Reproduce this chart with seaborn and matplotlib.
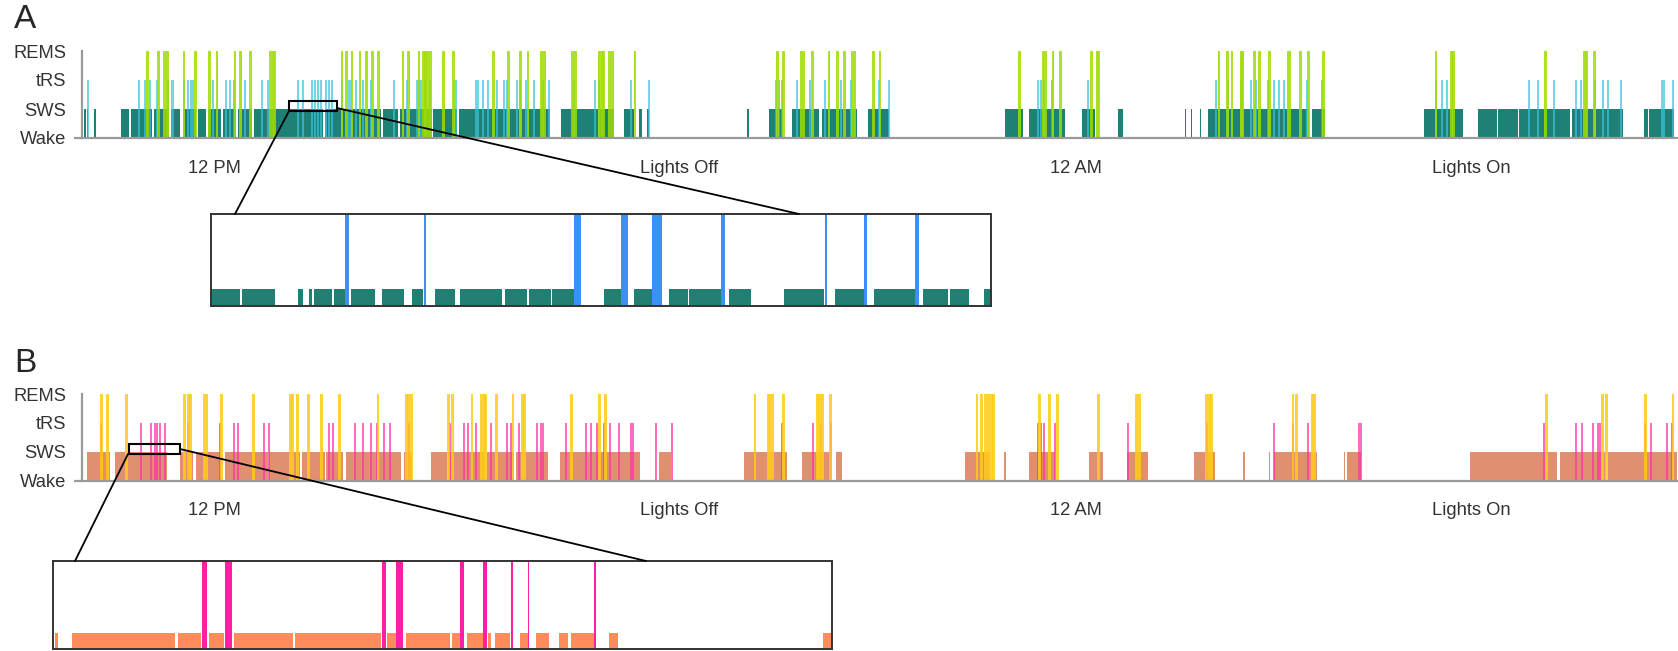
import numpy as np
import matplotlib
matplotlib.use("Agg")
import matplotlib.pyplot as plt
from matplotlib.lines import Line2D
from matplotlib.patches import Rectangle
import seaborn as sns

# sleep stages, plotted as heights 0..3
stage_names = ["Wake", "SWS", "tRS", "REMS"]
tick_hours = [12.0, 18.47, 24.0, 29.5]
tick_names = ["12 PM", "Lights Off", "12 AM", "Lights On"]
t_start, t_end = 10.16, 32.38

# ---- panel A (clock hours) ----
a_sws = [(10.19, 10.21), (10.23, 10.25), (10.33, 10.35), (10.70, 10.82), (10.84, 11.14),
         (11.16, 11.37), (11.40, 11.53), (11.56, 11.75), (11.77, 11.88), (11.91, 12.10),
         (12.12, 12.31), (12.33, 12.53), (12.56, 13.52), (13.55, 14.32), (14.35, 14.56),
         (14.59, 15.03), (15.05, 15.38), (15.41, 16.68), (16.83, 17.56), (17.70, 17.85),
         (17.92, 17.95), (18.02, 18.05), (19.42, 19.44), (19.72, 19.92), (20.04, 20.42),
         (20.46, 20.95), (21.10, 21.39), (23.01, 23.26), (23.35, 23.84), (24.08, 24.27),
         (24.58, 24.65), (25.51, 25.53), (25.60, 25.62), (25.72, 25.74), (25.84, 27.24),
         (27.29, 27.47), (28.85, 29.39), (29.59, 29.86), (29.88, 30.15), (30.17, 30.88),
         (30.90, 31.62), (31.91, 31.96), (31.98, 32.32)]
a_trs = [10.24, 10.95, 11.04, 11.11, 11.20, 11.36, 11.42, 11.58, 11.64, 11.68, 11.71, 11.98,
         12.16, 12.22, 12.27, 12.43, 12.67, 12.75, 13.17, 13.23, 13.36, 13.40, 13.44, 13.49,
         13.56, 13.60, 13.64, 13.78, 13.88, 13.91, 13.98, 14.07, 14.18, 14.51, 14.68, 14.82,
         14.85, 14.88, 14.93, 15.00, 15.36, 15.64, 15.68, 15.74, 15.81, 15.94, 16.04, 16.08,
         16.21, 16.26, 16.34, 16.45, 16.58, 16.66, 17.01, 17.30, 17.36, 17.81, 18.05, 19.82,
         19.86, 19.90, 20.11, 20.29, 20.50, 20.73, 20.86, 21.26, 21.39, 23.47, 23.51, 23.55,
         23.66, 24.16, 25.95, 26.12, 26.30, 26.44, 26.51, 26.67, 26.75, 26.82, 26.90, 27.21,
         27.43, 29.01, 29.09, 29.16, 30.31, 30.43, 30.66, 30.96, 31.03, 31.22, 31.33, 31.41,
         31.59, 32.16, 32.18, 32.31]
a_rems = [11.07, 11.23, 11.31, 11.35, 11.58, 11.74, 11.94, 12.04, 12.29, 12.37, 12.51, 12.78,
          12.82, 12.84, 13.78, 13.84, 13.92, 14.03, 14.12, 14.20, 14.29, 14.63, 14.71, 14.85,
          14.91, 14.94, 14.97, 15.01, 15.19, 15.33, 15.89, 16.10, 16.27, 16.37, 16.56, 16.60,
          16.99, 17.03, 17.36, 17.40, 17.42, 17.50, 17.55, 17.86, 19.84, 19.93, 20.17, 20.20,
          20.33, 20.56, 20.68, 20.78, 20.88, 20.92, 21.18, 21.27, 23.21, 23.55, 23.58, 23.68,
          23.78, 24.21, 24.29, 24.31, 25.99, 26.11, 26.17, 26.30, 26.32, 26.48, 26.55, 26.69,
          26.95, 26.98, 27.12, 27.24, 27.44, 29.01, 29.23, 29.25, 30.54, 31.08, 31.11, 31.22]

# ---- panel B (clock hours) ----
b_sws = [(10.23, 10.55), (10.62, 11.34), (11.52, 11.71), (11.75, 12.10), (12.15, 12.75),
         (12.77, 13.20), (13.22, 13.54), (13.56, 13.80), (13.83, 14.60), (14.64, 14.75),
         (15.02, 15.24), (15.26, 15.78), (15.80, 16.18), (16.20, 16.65), (16.81, 17.93),
         (18.20, 18.36), (19.38, 19.98), (20.18, 20.59), (20.66, 20.74), (22.46, 22.80),
         (23.00, 23.02), (23.34, 23.71), (24.18, 24.38), (24.71, 25.00), (25.64, 25.93),
         (26.32, 26.35), (26.68, 26.70), (26.76, 27.35), (27.73, 27.75), (27.77, 27.97),
         (29.48, 30.70), (30.74, 31.38), (31.40, 32.36)]
b_trs = [10.43, 10.98, 11.12, 11.18, 11.21, 11.25, 11.31, 11.63, 12.08, 12.27, 12.33, 12.69,
         12.77, 13.60, 13.65, 13.96, 14.07, 14.18, 14.27, 14.37, 14.45, 14.71, 15.28, 15.48,
         15.54, 15.65, 15.85, 16.08, 16.13, 16.24, 16.50, 16.55, 16.58, 16.90, 17.17, 17.25,
         17.33, 17.43, 17.51, 17.64, 17.81, 17.83, 18.15, 18.38, 19.90, 20.34, 20.45, 20.59,
         23.47, 23.51, 23.55, 23.71, 24.72, 25.82, 26.76, 27.02, 27.23, 27.94, 27.96, 30.52,
         30.96, 31.05, 31.20, 31.27, 31.29, 31.92, 32.01, 32.23, 32.29]
b_rems = [10.43, 10.51, 10.78, 11.59, 11.64, 11.67, 11.87, 11.90, 12.10, 12.55, 13.06, 13.09,
          13.16, 13.31, 13.49, 13.74, 14.28, 14.68, 14.71, 14.75, 15.26, 15.32, 15.59, 15.72,
          15.76, 15.78, 15.93, 16.16, 16.29, 16.32, 16.98, 17.36, 17.45, 19.53, 19.72, 19.75,
          19.78, 19.93, 20.40, 20.42, 20.45, 20.47, 20.58, 22.62, 22.68, 22.74, 22.78, 22.82,
          22.85, 23.49, 23.63, 23.74, 24.31, 24.84, 24.88, 25.82, 25.86, 25.89, 27.02, 27.07,
          27.29, 27.32, 30.55, 31.33, 31.38, 31.93, 32.31]

# zoomed windows (hours) shown in the insets
a_window = (13.04, 13.71)
b_window = (10.82, 11.52)

# ---- inset data, minutes within the zoomed window ----
ia_sws = [(0.00, 1.47), (1.57, 3.28), (4.46, 4.74), (5.01, 5.19), (5.29, 6.19), (6.32, 6.95),
          (7.16, 8.39), (8.78, 9.91), (10.33, 10.88), (11.48, 12.53), (12.79, 14.94),
          (15.10, 16.22), (16.33, 17.43), (17.51, 18.69), (20.13, 21.05), (21.70, 22.62),
          (23.48, 24.45), (24.53, 26.16), (26.55, 27.68), (29.36, 31.45), (31.98, 33.50),
          (34.02, 36.12), (36.51, 37.82), (37.90, 38.87), (39.66, 40.00)]
ia_trs = [(6.89, 7.08), (10.90, 11.01), (18.64, 18.95), (21.05, 21.36), (22.62, 23.14),
          (26.16, 26.37), (31.50, 31.61), (33.50, 33.64), (36.12, 36.33)]
ib_sws = [(0.08, 0.26), (1.00, 6.29), (6.42, 7.60), (7.99, 8.78), (9.30, 12.31), (12.45, 16.85),
          (17.16, 17.61), (18.13, 20.38), (20.51, 20.88), (21.27, 22.09), (22.32, 22.48),
          (22.72, 23.45), (23.97, 24.37), (24.81, 25.47), (25.99, 26.46), (26.59, 27.77),
          (28.56, 29.00), (39.56, 40.00)]
ib_trs = [(7.65, 7.91), (8.83, 9.17), (16.90, 17.08), (17.63, 17.95), (20.88, 21.09),
          (22.06, 22.30), (23.50, 23.63), (24.37, 24.44), (27.77, 27.90)]

sns.set_theme(style="white")
plt.rcParams["font.family"] = ["Liberation Sans", "DejaVu Sans"]

W, H = 1678, 651
fig = plt.figure(figsize=(W / 100, H / 100), dpi=100)
axis_grey = "#9a9a9a"


def fig_box(x0, y0, x1, y1):
    # pixel box (top-left origin) -> figure fraction rect
    return [x0 / W, 1 - y1 / H, (x1 - x0) / W, (y1 - y0) / H]


def spans(ax, pairs, level, color, alpha=1.0):
    s = np.array([p[0] for p in pairs])
    e = np.array([p[1] for p in pairs])
    ax.bar(s, level, width=e - s, align="edge", color=color, alpha=alpha, linewidth=0)


def events(ax, times, level, width, color, alpha):
    t = np.array(times)
    ax.bar(t, level, width=width, align="center", color=color, alpha=alpha, linewidth=0)


def hypnogram(rect, sws, trs, rems, cols, window):
    ax = fig.add_axes(rect)
    spans(ax, sws, 1, cols[0], cols[3])
    events(ax, trs, 2, 0.028, cols[1], 0.7)
    events(ax, rems, 3, 0.038, cols[2], 0.85)
    ax.set_xlim(t_start, t_end)
    ax.set_ylim(0, 3)
    ax.set_yticks(range(4))
    ax.set_yticklabels(stage_names)
    ax.set_xticks(tick_hours)
    ax.set_xticklabels(tick_names)
    sns.despine(ax=ax)
    for side in ["left", "bottom"]:
        ax.spines[side].set_color(axis_grey)
        ax.spines[side].set_linewidth(1.6)
    # baseline runs out under the y ticks, as in the original
    ax.plot([t_start - 8 / 71.8, t_start], [0, 0], color=axis_grey, lw=1.6,
            clip_on=False, solid_capstyle="butt")
    ax.tick_params(axis="both", length=5.5, width=1.4, color=axis_grey,
                   labelsize=13.2, labelcolor="#333333")
    ax.tick_params(axis="x", pad=10)
    ax.tick_params(axis="y", pad=6)
    ax.add_patch(Rectangle((window[0], 0.93), window[1] - window[0], 0.33,
                           fill=False, edgecolor="black", linewidth=1.5, clip_on=False, zorder=5))
    return ax


def inset(rect, sws, trs, c_sws, c_trs):
    ax = fig.add_axes(rect)
    spans(ax, sws, 1, c_sws)
    spans(ax, trs, 5.5, c_trs)
    ax.set_xlim(0, 40)
    ax.set_ylim(0, 5.5)
    ax.set_xticks([])
    ax.set_yticks([])
    for sp in ax.spines.values():
        sp.set_visible(True)
        sp.set_color("#333333")
        sp.set_linewidth(1.4)
    return ax


def connector(p0, p1):
    fig.add_artist(Line2D([p0[0] / W, p1[0] / W], [1 - p0[1] / H, 1 - p1[1] / H],
                          color="black", linewidth=1.3))


# panel A
hypnogram(fig_box(82, 51, W, 138), a_sws, a_trs, a_rems,
          ["#1f8075", "#3cc3dc", "#9fdc00", 1.0], a_window)
inset(fig_box(211, 214, 991, 306), ia_sws, ia_trs, "#218073", "#3d8ef5")
connector((289, 111), (235, 214))
connector((337, 108), (799, 214))
fig.text(14 / W, 1 - 4 / H, "A", fontsize=24, va="top", ha="left")

# panel B
hypnogram(fig_box(82, 394, W, 480.5), b_sws, b_trs, b_rems,
          ["#dc7c58", "#ff2ea6", "#ffcc14", 0.85], b_window)
inset(fig_box(53, 561, 832, 649), ib_sws, ib_trs, "#ff8c5a", "#ff1fa5")
connector((128, 454), (75, 561))
connector((180, 449), (646, 561))
fig.text(14 / W, 1 - 348 / H, "B", fontsize=24, va="top", ha="left")

fig.savefig("out.png", dpi=100)
